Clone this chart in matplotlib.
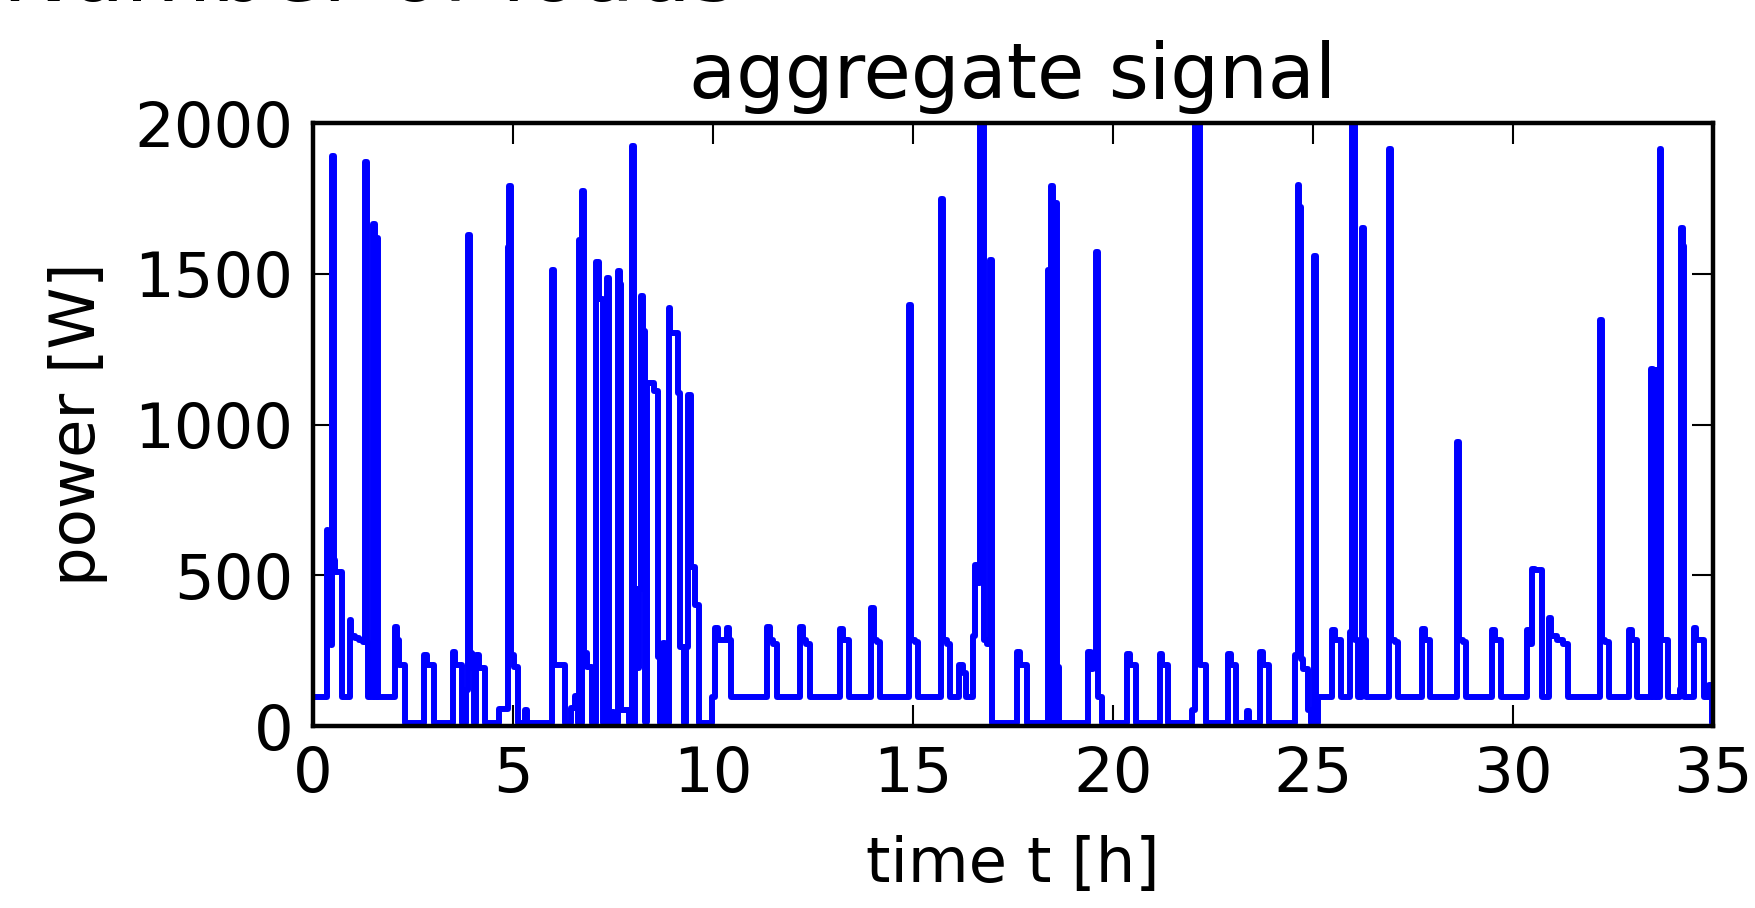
import matplotlib
matplotlib.use("Agg")
from matplotlib import pyplot as plt

# step change times [h] and power level after each change [W]
t_h = [0.00, 0.35, 0.37, 0.39, 0.41, 0.44, 0.48, 0.52, 0.56, 0.73,
       0.93, 0.96, 1.05, 1.15, 1.25, 1.30, 1.34, 1.37, 1.50, 1.54,
       1.60, 1.63, 2.06, 2.09, 2.16, 2.30, 2.78, 2.84, 3.02, 3.50,
       3.56, 3.73, 3.82, 3.88, 3.92, 3.97, 4.03, 4.08, 4.14, 4.30,
       4.65, 4.88, 4.91, 4.96, 5.03, 5.13, 5.31, 5.36, 5.97, 6.02,
       6.30, 6.45, 6.55, 6.63, 6.65, 6.69, 6.73, 6.78, 6.85, 6.97,
       7.08, 7.14, 7.24, 7.34, 7.39, 7.48, 7.53, 7.62, 7.67, 7.71,
       7.90, 7.98, 8.03, 8.06, 8.10, 8.14, 8.19, 8.25, 8.31, 8.36,
       8.52, 8.62, 8.68, 8.75, 8.80, 8.89, 8.93, 9.13, 9.18, 9.28,
       9.33, 9.38, 9.44, 9.56, 9.64, 9.98, 10.06, 10.12, 10.35, 10.39,
       10.45, 11.35, 11.42, 11.50, 11.60, 12.18, 12.25, 12.32, 12.42, 13.17,
       13.24, 13.39, 13.96, 14.02, 14.10, 14.18, 14.90, 14.95, 15.05, 15.12,
       15.70, 15.75, 15.85, 15.93, 16.15, 16.25, 16.32, 16.50, 16.55, 16.62,
       16.68, 16.78, 16.85, 16.94, 16.99, 17.60, 17.68, 17.85, 18.38, 18.42,
       18.46, 18.51, 18.56, 18.60, 18.65, 19.38, 19.45, 19.50, 19.58, 19.63,
       19.73, 20.35, 20.43, 20.57, 21.17, 21.24, 21.38, 21.98, 22.05, 22.17,
       22.32, 22.88, 22.95, 23.07, 23.36, 23.41, 23.68, 23.75, 23.90, 24.55,
       24.62, 24.66, 24.70, 24.76, 24.88, 24.95, 25.02, 25.07, 25.12, 25.48,
       25.55, 25.70, 25.92, 25.97, 26.05, 26.12, 26.22, 26.27, 26.33, 26.90,
       26.95, 27.05, 27.12, 27.73, 27.80, 27.92, 28.60, 28.66, 28.75, 28.83,
       29.48, 29.55, 29.71, 30.35, 30.42, 30.47, 30.56, 30.74, 30.90, 30.95,
       31.10, 31.25, 31.37, 32.17, 32.22, 32.30, 32.40, 32.90, 32.97, 33.10,
       33.45, 33.50, 33.56, 33.61, 33.67, 33.71, 33.88, 34.17, 34.21, 34.25,
       34.29, 34.52, 34.58, 34.78, 34.90, 34.98, 35.00]

p_w = [95, 650, 280, 620, 290, 270, 1890, 550, 510, 95,
       352, 300, 292, 285, 280, 1870, 275, 95, 1665, 95,
       1620, 95, 328, 285, 203, 10, 237, 203, 10, 244,
       203, 10, 118, 1630, 243, 191, 10, 237, 191, 10,
       55, 1590, 1790, 237, 196, 10, 53, 10, 1513, 204,
       10, 60, 100, 10, 1612, 10, 1773, 243, 197, 10,
       1540, 1415, 10, 1487, 10, 46, 10, 1510, 1467, 53,
       10, 1925, 10, 454, 191, 454, 1425, 1310, 13, 1138,
       1112, 230, 10, 276, 10, 1388, 1302, 1105, 263, 10,
       263, 1099, 526, 401, 10, 95, 325, 285, 325, 285,
       95, 328, 285, 271, 95, 328, 285, 271, 95, 322,
       285, 95, 393, 285, 278, 95, 1396, 285, 278, 95,
       1748, 285, 271, 95, 203, 176, 95, 298, 535, 474,
       2150, 285, 271, 1547, 10, 244, 203, 10, 1511, 10,
       1791, 10, 1734, 196, 10, 244, 190, 237, 1572, 95,
       10, 240, 203, 10, 240, 203, 10, 54, 2150, 203,
       10, 240, 203, 10, 51, 10, 244, 203, 10, 237,
       1795, 1721, 224, 190, 54, 10, 1558, 10, 95, 318,
       285, 95, 312, 2150, 285, 95, 1653, 285, 95, 1913,
       285, 278, 95, 322, 285, 95, 942, 285, 278, 95,
       318, 285, 95, 318, 271, 522, 518, 95, 359, 298,
       285, 272, 95, 1348, 285, 278, 95, 318, 285, 95,
       1185, 95, 1180, 95, 1913, 285, 95, 122, 1653, 1592,
       95, 325, 285, 95, 135, 10, 10]

x_ticks = [0, 5, 10, 15, 20, 25, 30, 35]
y_ticks = [0, 500, 1000, 1500, 2000]

plt.rcParams['font.family'] = ['DejaVu Sans']
fs = 45

fig = plt.figure(figsize=(17.55, 9.08), dpi=100)
ax = fig.add_axes([0.1783, 0.2004, 0.7977, 0.6641])

ax.plot(t_h, p_w, drawstyle='steps-post', color='b', linewidth=4.3,
        solid_joinstyle='round', solid_capstyle='round')

ax.set_xlim(0, 35)
ax.set_ylim(0, 2000)
ax.set_xticks(x_ticks)
ax.set_yticks(y_ticks)
ax.tick_params(direction='in', length=15, width=1.5, top=True, right=True,
               labelsize=fs, pad=14)
for s in ax.spines.values():
    s.set_linewidth(3.2)

ax.set_xlabel('time t [h]', fontsize=fs, labelpad=21)
ax.set_ylabel('power [W]', fontsize=fs, labelpad=19)
ax.set_title('aggregate signal', fontsize=fs * 1.23, pad=18)

# title of the panel above, cut off by the figure edge
fig.text(0.001, 1 - 1 / 908, 'Number of loads', fontsize=64,
         ha='left', va='baseline')

fig.savefig('out.png', dpi=100)
